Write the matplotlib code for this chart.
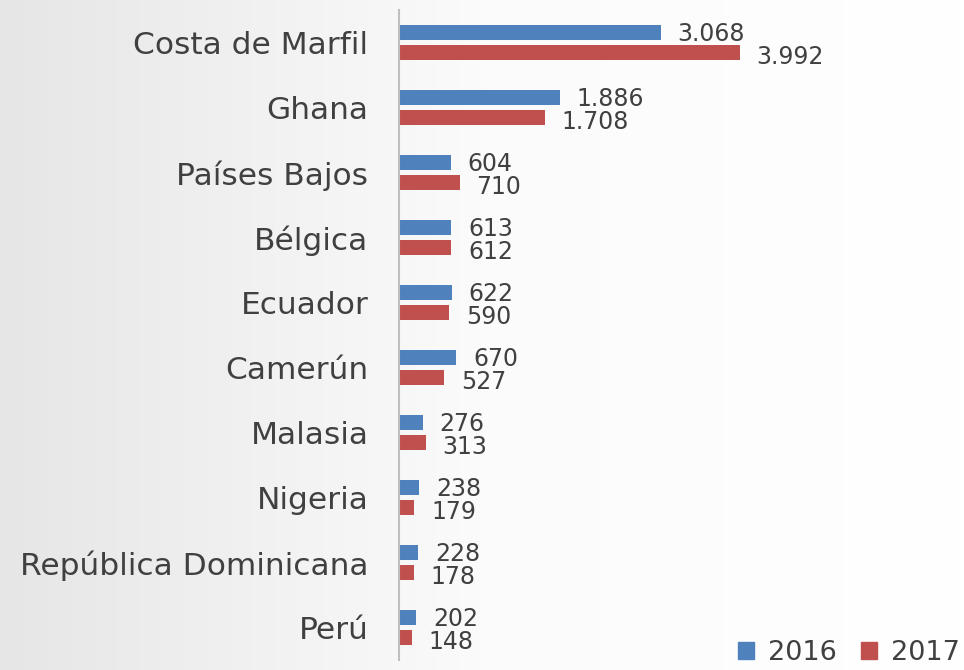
import numpy as np
import matplotlib.pyplot as plt
from matplotlib.patches import Patch

countries = ["Costa de Marfil", "Ghana", "Países Bajos", "Bélgica", "Ecuador",
             "Camerún", "Malasia", "Nigeria", "República Dominicana", "Perú"]
v2016 = [3068, 1886, 604, 613, 622, 670, 276, 238, 228, 202]
v2017 = [3992, 1708, 710, 612, 590, 527, 313, 179, 178, 148]
years = ["2016", "2017"]

blue = "#4F81BD"
red = "#C0504D"
txt = "#404040"

plt.rcParams["font.family"] = ["DejaVu Sans"]

fig = plt.figure(figsize=(9.64, 6.7), dpi=100)

# light gray-to-white background gradient
bg = fig.add_axes([0, 0, 1, 1], zorder=-1)
grad = np.linspace(0, 1, 256).reshape(1, -1)
bg.imshow(grad, aspect="auto", cmap=plt.cm.colors.LinearSegmentedColormap.from_list(
    "bg", ["#e6e6e6", "#fbfbfb", "#ffffff"]), extent=[0, 1, 0, 1])
bg.axis("off")

ax = fig.add_axes([399 / 964, 10 / 670, 541 / 964, 650 / 670])
ax.patch.set_alpha(0)

y = np.arange(len(countries))
off = 0.155
h = 0.235
ax.barh(y - off, v2016, height=h, color=blue, label=years[0])
ax.barh(y + off, v2017, height=h, color=red, label=years[1])

for yi, a, b in zip(y, v2016, v2017):
    for val, yy, dy in ((a, yi - off, -1), (b, yi + off, -3)):
        s = f"{val:,}".replace(",", ".")
        ax.annotate(s, (val, yy), xytext=(12, dy), textcoords="offset points",
                    va="center", ha="left", fontsize=17, color=txt)

ax.set_xlim(0, 541 / (262 / 3068))
ax.set_ylim(len(countries) - 0.5, -0.5)
ax.set_yticks(y)
ax.set_yticklabels(countries, fontsize=22.5, color=txt)
ax.tick_params(axis="y", length=0, pad=22)
ax.set_xticks([])
for s in ["top", "right", "bottom"]:
    ax.spines[s].set_visible(False)
ax.spines["left"].set_color("#BFBFBF")
ax.spines["left"].set_linewidth(1.5)

handles = [Patch(color=blue), Patch(color=red)]
fig.legend(handles, years, loc="lower right", bbox_to_anchor=(1.021, -0.03),
           ncol=2, frameon=False, fontsize=19.5, handlelength=0.6, handleheight=0.6,
           handletextpad=0.5, columnspacing=0.9, labelcolor=txt)

fig.savefig("out.png", dpi=100)
